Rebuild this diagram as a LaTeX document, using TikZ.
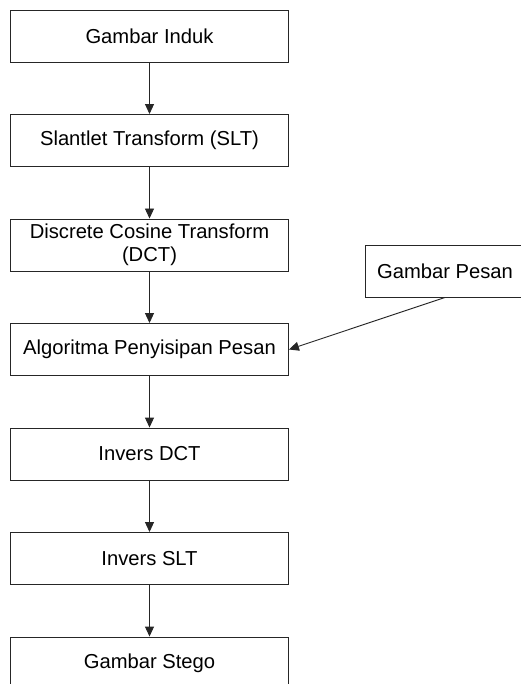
\documentclass[tikz,border=0pt]{standalone}
\usepackage{fontspec}
\setmainfont{Liberation Sans}
\usetikzlibrary{positioning,arrows.meta}

\begin{document}
\begin{tikzpicture}[
                x=1pt, y=1pt,
                node distance=51.6pt,
                line width=0.9pt,
                box/.style={draw=black!85, minimum width=278pt, minimum height=52pt, inner sep=0pt, align=center,
                            font=\fontsize{20.2}{23.4}\selectfont},
                arr/.style={draw=black!85, -{Triangle[width=9pt,length=10pt]}}
            ]
                \useasboundingbox (0,0) rectangle (521,-684);

                % Main chain
                \node[box] (induk) at (149.5,-36) {Gambar Induk};
                \node[box, below=of induk] (slt) {Slantlet Transform (SLT)};
                \node[box, below=of slt] (dct) {Discrete Cosine Transform\\(DCT)};
                \node[box, below=of dct] (sisip) {Algoritma Penyisipan Pesan};
                \node[box, below=of sisip] (idct) {Invers DCT};
                \node[box, below=of idct] (islt) {Invers SLT};
                \node[box, below=of islt] (stego) {Gambar Stego};

                \draw[arr] (induk) -- (slt);
                \draw[arr] (slt) -- (dct);
                \draw[arr] (dct) -- (sisip);
                \draw[arr] (sisip) -- (idct);
                \draw[arr] (idct) -- (islt);
                \draw[arr] (islt) -- (stego);

                % Message input
                \node[box, minimum width=160pt, right=75.6pt of dct, yshift=-26pt] (pesan) {Gambar Pesan};
                \draw[arr] (pesan.south) -- (sisip.east);
            \end{tikzpicture}
\end{document}
